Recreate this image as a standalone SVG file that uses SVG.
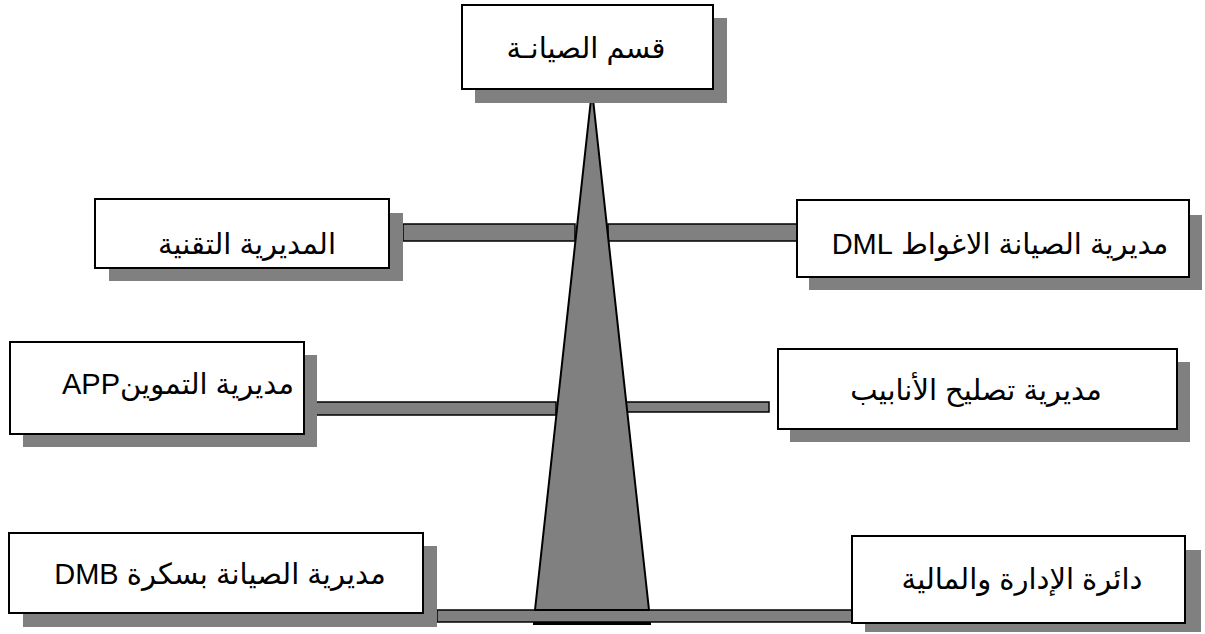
<svg xmlns="http://www.w3.org/2000/svg" width="1205" height="634" viewBox="0 0 1205 634">
  <style>
    .shadow { fill: #808080; }
    .box { fill: #ffffff; stroke: #000000; stroke-width: 2; }
    .bar { fill: #808080; stroke: #000000; stroke-width: 1.5; }
    .label { font-family: "Liberation Sans", "DejaVu Sans", "Noto Sans", sans-serif; font-size: 29px; fill: #000000; text-anchor: middle; direction: rtl; }
  </style>

  <!-- Connectors: horizontal bars, the base plate and the central spine -->
  <g id="connectors">
    <rect class="bar" x="403" y="224" width="172" height="17"/>
    <rect class="bar" x="608" y="224" width="189" height="17"/>
    <rect class="bar" x="313" y="402" width="243" height="13"/>
    <rect class="bar" x="625" y="402" width="144" height="10"/>
    <rect x="533" y="621" width="118" height="4" fill="#000000"/>
    <rect class="bar" x="437" y="610" width="416" height="12"/>
    <rect class="shadow" x="475" y="89" width="252" height="14"/>
    <polygon points="592,90 649,610 535,610" fill="#808080" stroke="#000000" stroke-width="2" stroke-linejoin="miter"/>
  </g>

  <!-- Head node -->
  <g id="node-head">
    <rect class="shadow" x="475" y="18" width="252" height="85"/>
    <rect class="box" x="462" y="5" width="251" height="84"/>
    <text class="label" x="586" y="58">قسم الصيانـة</text>
  </g>

  <g id="node-technical">
    <rect class="shadow" x="109" y="213" width="294" height="68"/>
    <rect class="box" x="95" y="199" width="294" height="69"/>
    <text class="label" x="247" y="254">المديرية التقنية</text>
  </g>

  <g id="node-laghouat">
    <rect class="shadow" x="809" y="215" width="393" height="75"/>
    <rect class="box" x="797" y="200" width="392" height="77"/>
    <text class="label" x="1000" y="254">مديرية الصيانة الاغواط DML</text>
  </g>

  <g id="node-supply">
    <rect class="shadow" x="23" y="355" width="294" height="92"/>
    <rect class="box" x="10" y="342" width="294" height="92"/>
    <text class="label" x="178" y="394">مديرية التموينAPP</text>
  </g>

  <g id="node-pipes">
    <rect class="shadow" x="790" y="362" width="400" height="80"/>
    <rect class="box" x="778" y="349" width="399" height="80"/>
    <text class="label" x="976" y="400">مديرية تصليح الأنابيب</text>
  </g>

  <g id="node-biskra">
    <rect class="shadow" x="23" y="546" width="414" height="81"/>
    <rect class="box" x="9" y="533" width="414" height="80"/>
    <text class="label" x="220" y="584">مديرية الصيانة بسكرة DMB</text>
  </g>

  <g id="node-admin">
    <rect class="shadow" x="865" y="550" width="336" height="82"/>
    <rect class="box" x="852" y="536" width="333" height="87"/>
    <text class="label" x="1022" y="589">دائرة الإدارة والمالية</text>
  </g>
</svg>
